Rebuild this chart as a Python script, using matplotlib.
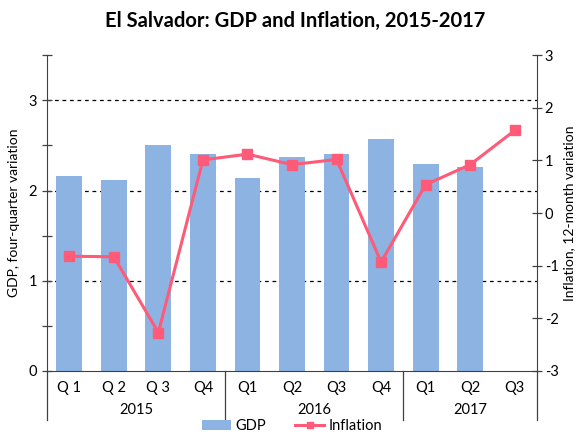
import matplotlib.pyplot as plt
import numpy as np
from matplotlib.ticker import MultipleLocator

plt.rcParams['font.family'] = ['Lato', 'DejaVu Sans']
plt.rcParams['axes.unicode_minus'] = False

quarters = ['Q 1', 'Q 2', 'Q 3', 'Q4', 'Q1', 'Q2', 'Q3', 'Q4', 'Q1', 'Q2', 'Q3']
years = ['2015', '2016', '2017']
year_len = [4, 4, 3]
gdp = [2.16, 2.12, 2.50, 2.41, 2.14, 2.37, 2.40, 2.57, 2.29, 2.26]
inflation = [-0.82, -0.83, -2.27, 1.01, 1.12, 0.92, 1.02, -0.93, 0.54, 0.92, 1.57]

bar_color = '#8DB3E2'
line_color = '#FF5A78'

fig = plt.figure(figsize=(5.84, 4.38), dpi=100)
ax = fig.add_axes([0.0805, 0.153, 0.839, 0.721])
x = np.arange(len(quarters))

ax.bar(x[:len(gdp)], gdp, width=0.58, color=bar_color, zorder=2, label='GDP')
ax.set_xlim(-0.5, len(quarters) - 0.5)
ax.set_ylim(0, 3.5)
ax.yaxis.set_major_locator(MultipleLocator(1))
ax.yaxis.set_minor_locator(MultipleLocator(0.5))
for g in [1, 2, 3]:
    ax.axhline(g, color='black', lw=0.9, ls=(0, (3, 3)), zorder=1)
ax.set_ylabel('GDP, four-quarter variation', fontsize=10, labelpad=6)
ax.tick_params(axis='y', which='both', direction='inout', length=7, width=0.9,
               labelsize=10.5, color='#404040')
ax.tick_params(axis='x', length=0, labelsize=10.5, pad=7)
ax.set_xticks(x)
ax.set_xticklabels(quarters)
ax.spines['top'].set_visible(False)
ax.spines['right'].set_visible(False)
ax.spines['left'].set_color('#404040')
ax.spines['bottom'].set_color('#404040')

ax2 = ax.twinx()
ax2.plot(x, inflation, color=line_color, lw=2.2, marker='s', ms=7, label='Inflation')
ax2.set_ylim(-3, 3)
ax2.yaxis.set_major_locator(MultipleLocator(1))
ax2.set_ylabel('Inflation, 12-month variation', fontsize=10, labelpad=3)
ax2.tick_params(axis='y', direction='inout', length=7, width=0.9, labelsize=10.5,
                color='#404040', pad=2)
for s in ['top', 'left', 'bottom']:
    ax2.spines[s].set_visible(False)
ax2.spines['right'].set_color('#404040')

# year grouping: separators and labels below the quarter labels
trans = ax.get_xaxis_transform()
start = -0.5
bounds = [start]
for yr, n in zip(years, year_len):
    mid = start + n / 2
    ax.text(mid, -0.125, yr, transform=trans, ha='center', va='center', fontsize=10.5)
    start += n
    bounds.append(start)
for b in bounds:
    ax.plot([b, b], [0, -0.155], transform=trans, color='#404040', lw=0.9, clip_on=False)

fig.suptitle('El Salvador: GDP and Inflation, 2015-2017', x=0.505, y=0.975,
             fontsize=14.5, fontweight='bold')

h1, l1 = ax.get_legend_handles_labels()
h2, l2 = ax2.get_legend_handles_labels()
fig.legend(h1 + h2, l1 + l2, loc='lower center', bbox_to_anchor=(0.5, -0.012), ncol=2,
           frameon=False, fontsize=10.5, handlelength=2.0, columnspacing=2,
           handletextpad=0.3, markerscale=0.7, borderpad=0.2)

fig.savefig('out.png', dpi=100)
